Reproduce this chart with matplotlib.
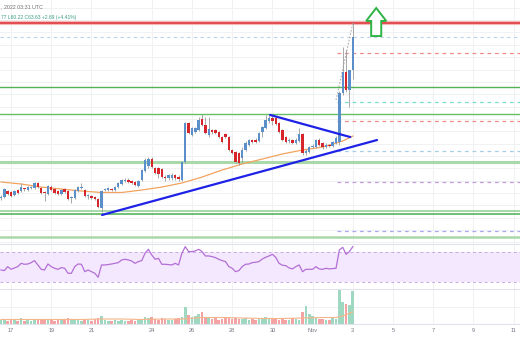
import numpy as np
import pandas as pd
import matplotlib
matplotlib.use("Agg")
import matplotlib.pyplot as plt
from matplotlib.patches import FancyArrow

# LTC/USD 4h candles, first bar opens 2022-10-16 12:00 UTC
first_bar = "2022-10-16 12:00"
origin = pd.Timestamp("2022-10-17")

opens = [50.59, 50.67, 51.16, 51.08, 50.84, 51.24, 51.16, 51.32, 51.24, 51.40,
         51.40, 51.81, 51.40, 51.08, 50.92, 51.48, 51.32, 51.16, 50.92, 51.32,
         51.16, 50.59, 50.59, 51.16, 51.40, 51.24, 50.75, 50.75, 50.67, 50.51,
         49.78, 51.24, 51.24, 51.32, 51.24, 51.48, 51.73, 51.97, 52.05, 51.97,
         51.89, 51.56, 52.05, 52.78, 53.18, 53.75, 53.02, 53.02, 52.94, 52.30,
         52.21, 52.21, 52.46, 52.30, 52.05, 53.51, 56.67, 55.70, 55.94, 56.10,
         56.99, 56.51, 55.70, 56.10, 56.10, 55.94, 55.53, 55.78, 55.53, 54.48,
         54.32, 54.24, 53.83, 54.48, 54.89, 55.29, 55.29, 55.21, 55.94, 56.26,
         56.83, 57.07, 57.07, 56.67, 56.10, 55.53, 55.21, 55.29, 55.05, 55.21,
         55.78, 54.24, 54.32, 54.72, 54.72, 55.29, 55.05, 54.72, 54.89, 54.81,
         55.05, 55.13, 59.10, 60.80, 59.34, 60.94]
highs = [50.84, 51.40, 51.24, 51.16, 51.24, 51.32, 51.81, 51.40, 51.56, 51.56,
         51.89, 51.89, 51.48, 51.16, 51.65, 51.65, 51.40, 51.24, 51.32, 51.40,
         51.24, 50.75, 51.32, 51.56, 51.81, 51.32, 50.92, 50.84, 50.75, 50.59,
         51.24, 51.40, 51.48, 51.40, 51.56, 51.89, 52.13, 52.21, 52.21, 52.05,
         51.97, 52.05, 52.94, 53.83, 53.91, 53.91, 53.10, 53.10, 53.02, 52.46,
         52.54, 52.62, 52.54, 52.46, 53.59, 56.75, 56.75, 56.34, 56.34, 57.15,
         57.40, 57.15, 57.15, 56.18, 56.18, 56.02, 55.62, 55.86, 55.62, 54.56,
         54.40, 54.32, 54.72, 55.21, 55.37, 55.37, 55.45, 55.94, 56.43, 57.32,
         57.32, 57.40, 57.23, 56.75, 56.18, 55.62, 55.45, 55.37, 55.45, 56.26,
         55.86, 54.56, 54.81, 54.97, 55.37, 55.45, 55.13, 55.05, 54.97, 55.21,
         55.62, 59.26, 62.82, 62.58, 60.96, 64.77]
lows = [50.43, 50.59, 50.84, 50.67, 50.75, 50.92, 51.08, 51.20, 51.16, 51.32,
        51.32, 51.40, 50.92, 50.35, 50.84, 51.16, 50.92, 50.84, 50.84, 51.00,
        50.43, 50.19, 50.51, 51.08, 51.32, 50.67, 50.51, 50.51, 50.43, 49.78,
        49.46, 51.16, 51.16, 51.16, 51.16, 51.40, 51.65, 51.89, 51.81, 51.73,
        51.56, 51.48, 51.97, 52.70, 53.02, 53.02, 52.54, 52.21, 52.21, 51.97,
        52.05, 52.05, 52.05, 51.97, 51.97, 53.43, 55.78, 55.62, 55.86, 56.02,
        56.43, 55.78, 55.53, 55.78, 55.78, 55.45, 55.05, 55.45, 54.40, 54.16,
        53.43, 53.27, 53.43, 54.40, 54.81, 55.05, 55.05, 55.13, 55.53, 56.18,
        56.67, 56.51, 56.51, 55.86, 55.21, 55.05, 55.05, 54.97, 54.97, 55.13,
        54.08, 54.08, 54.24, 54.64, 54.64, 54.81, 54.56, 54.64, 54.72, 54.72,
        54.97, 54.89, 58.94, 59.18, 57.96, 60.22]
closes = [50.67, 51.32, 50.92, 50.75, 51.16, 51.00, 51.48, 51.28, 51.48, 51.44,
          51.81, 51.48, 51.00, 51.00, 51.56, 51.24, 51.00, 50.92, 51.24, 51.08,
          50.51, 50.67, 51.24, 51.48, 51.48, 50.75, 50.84, 50.59, 50.51, 49.86,
          51.16, 51.32, 51.40, 51.24, 51.48, 51.81, 52.05, 52.01, 51.89, 51.81,
          51.65, 51.97, 52.86, 53.67, 53.75, 53.10, 52.62, 52.54, 52.30, 52.21,
          52.46, 52.46, 52.21, 52.13, 53.51, 56.67, 55.86, 56.26, 56.26, 56.91,
          56.51, 55.86, 56.18, 55.94, 55.86, 55.53, 55.13, 55.53, 54.48, 54.24,
          53.51, 53.43, 54.48, 55.05, 55.29, 55.13, 55.13, 55.86, 56.34, 56.91,
          57.07, 56.83, 56.59, 55.94, 55.29, 55.13, 55.29, 55.05, 55.29, 55.78,
          54.24, 54.40, 54.72, 54.81, 55.29, 54.89, 54.72, 54.89, 54.81, 55.13,
          55.45, 59.10, 60.80, 59.34, 60.94, 63.63]
volume = [200, 250, 150, 200, 200, 150, 300, 150, 200, 150,
          250, 250, 200, 250, 250, 200, 150, 200, 250, 200,
          300, 250, 250, 200, 150, 250, 200, 150, 250, 300,
          400, 200, 150, 150, 200, 150, 200, 150, 150, 200,
          150, 200, 250, 350, 300, 350, 250, 200, 300, 250,
          200, 200, 250, 300, 350, 850, 450, 350, 400, 500,
          600, 350, 300, 250, 300, 200, 250, 300, 350, 250,
          300, 250, 250, 300, 200, 250, 200, 250, 300, 350,
          250, 300, 250, 200, 250, 200, 200, 300, 250, 200,
          600, 900, 500, 400, 300, 250, 250, 200, 200, 350,
          250, 1700, 1100, 1000, 950, 1650]
rsi = [46.0, 45.2, 50.5, 46.9, 48.7, 50.5, 54.9, 53.6, 54.0, 55.8,
       58.5, 52.7, 46.9, 46.0, 54.0, 50.5, 48.3, 46.9, 49.2, 48.3,
       41.6, 41.6, 50.5, 54.0, 53.6, 43.8, 46.0, 43.8, 41.6, 36.3,
       52.7, 52.7, 53.2, 54.0, 54.9, 55.8, 59.4, 60.3, 59.4, 58.0,
       54.9, 57.2, 58.5, 68.3, 73.6, 66.0, 60.3, 61.6, 53.6, 53.6,
       53.2, 52.7, 54.9, 52.7, 68.3, 77.1, 70.5, 70.5, 71.4, 73.6,
       70.5, 64.7, 64.7, 63.8, 62.5, 60.3, 58.5, 57.2, 50.5, 48.3,
       43.8, 45.2, 50.5, 53.6, 54.0, 55.8, 56.3, 57.2, 60.7, 62.9,
       64.7, 66.9, 62.9, 54.9, 52.3, 51.8, 48.7, 47.4, 50.5, 52.7,
       43.8, 46.9, 46.9, 46.9, 50.5, 47.4, 46.9, 48.3, 47.4, 47.9,
       48.3, 72.7, 76.2, 66.9, 70.5, 77.1]

# moving average of price, sampled once a day (bar index -> value)
ma_bars = [0, 6, 12, 18, 24, 30, 36, 42, 48, 54, 60, 66, 72, 78, 84, 90, 96, 102, 105]
ma_vals = [51.89, 51.73, 51.48, 51.32, 51.16, 51.04, 51.04, 51.24, 51.48, 51.81,
           52.29, 52.86, 53.35, 53.75, 54.16, 54.48, 54.72, 55.21, 55.61]
# volume moving average
vma_bars = [0, 6, 12, 18, 24, 30, 36, 42, 48, 54, 60, 66, 72, 78, 84, 90, 96, 100, 102, 105]
vma_vals = [225, 225, 225, 225, 225, 250, 250, 225, 250, 250,
            325, 325, 300, 275, 275, 300, 325, 325, 400, 600]

# horizontal levels
solid_levels = [64.77, 59.58, 57.37, 53.51, 49.54, 49.30, 47.47]
dashed_levels = [62.34, 58.37, 56.83, 54.40, 51.91, 47.96]
last_price = 63.63
dashed_from = "2022-11-02 04:50"

# hand-drawn trend lines (date, price)
support_dates = ["2022-10-21 12:40", "2022-11-04 05:00"]
support_prices = [49.22, 55.29]
triangle_dates = ["2022-10-29 21:20", "2022-11-02 21:00"]
triangle_prices = [57.32, 55.53]
# dotted projection up to the resistance
path_dates = ["2022-11-02 04:00", "2022-11-03 00:10"]
path_prices = [58.53, 64.77]

tick_dates = ["2022-10-17", "2022-10-19", "2022-10-21", "2022-10-24", "2022-10-26",
              "2022-10-28", "2022-10-30", "2022-11-01", "2022-11-03", "2022-11-05",
              "2022-11-07", "2022-11-09", "2022-11-11"]
tick_labels = ["17", "19", "21", "24", "26", "28", "30", "Nov", "3", "5", "7", "9", "11"]


def days(ts):
    return (pd.to_datetime(ts) - origin) / pd.Timedelta(days=1)


bar_times = pd.date_range(first_bar, periods=len(closes), freq="4h")
x = np.asarray(days(bar_times))
o, h, l, c = map(np.asarray, (opens, highs, lows, closes))
up = c >= o

UP, DOWN = "#5b8fc9", "#d6262b"
GRID = "#f0f1f3"
XLIM = (-0.55, 25.32)
ticks = np.asarray(days(pd.to_datetime(tick_dates)))

plt.rcParams["font.family"] = ["Liberation Sans", "DejaVu Sans"]
fig = plt.figure(figsize=(5.2, 3.5), dpi=100)
ax = fig.add_axes([0, 0.3029, 1, 0.6971])
ax_rsi = fig.add_axes([0, 0.1743, 1, 0.1286], sharex=ax)
ax_vol = fig.add_axes([0, 0.0743, 1, 0.1], sharex=ax)

for a in (ax, ax_rsi, ax_vol):
    for s in a.spines.values():
        s.set_visible(False)
    a.set_xlim(*XLIM)
    a.set_yticks([])
    for t in ticks:
        a.axvline(t, color=GRID, lw=0.7, zorder=0)
ax_rsi.spines["top"].set_visible(True)
ax_vol.spines["top"].set_visible(True)
ax_vol.spines["bottom"].set_visible(True)
for s in (ax_rsi.spines["top"], ax_vol.spines["top"], ax_vol.spines["bottom"]):
    s.set_color("#e0e3eb")
    s.set_linewidth(0.8)

# ---- price pane ----
ax.set_ylim(46.87, 66.63)
for lvl in range(47, 67):
    ax.axhline(lvl, color=GRID, lw=0.7, zorder=0)

ax.axhline(solid_levels[0], color="#f6b9b9", lw=3.0, zorder=1)
ax.axhline(solid_levels[0], color="#e0393e", lw=1.2, zorder=2)
ax.axhline(solid_levels[1], color="#55b355", lw=1.0, zorder=2)
ax.axhline(solid_levels[2], color="#66bf66", lw=1.0, zorder=2)
ax.axhline(solid_levels[3], color="#a9d9a9", lw=2.2, zorder=2)
ax.axhline(solid_levels[4], color="#8fcf8f", lw=1.1, zorder=2)
ax.axhline(solid_levels[5], color="#4caf50", lw=1.1, zorder=2)
ax.axhline(solid_levels[6], color="#a9d9a9", lw=1.8, zorder=2)
ax.axhline(last_price, color="#bcd3ec", lw=0.8, ls=(0, (3, 3)), zorder=1)

dash_colors = ["#ee8a8a", "#7fdcc6", "#ee8a8a", "#a6cfe6", "#c39be0", "#a9a9f2"]
x0 = days(dashed_from)
for lvl, col in zip(dashed_levels, dash_colors):
    ax.hlines(lvl, x0, XLIM[1], color=col, lw=0.9, ls=(0, (3, 3)), zorder=1)

ax.plot(days(pd.to_datetime(support_dates)), support_prices, color="#1f22e6", lw=1.6, zorder=5,
        solid_capstyle="round")
ax.plot(days(pd.to_datetime(triangle_dates)), triangle_prices, color="#1f22e6", lw=1.6, zorder=5,
        solid_capstyle="round")
ax.plot(days(pd.to_datetime(path_dates)), path_prices, color="#b0b0b0", lw=0.8,
        ls=(0, (1.5, 1.5)), zorder=3)

ax.plot(x[ma_bars], ma_vals, color="#f2a35e", lw=0.9, zorder=3)

body_w = 0.12
ax.vlines(x, l, h, color="#9a9a9a", lw=0.6, zorder=3)
body = np.where(np.abs(c - o) < 0.05, 0.05, c - o)
ax.bar(x, body, bottom=o, width=body_w, color=np.where(up, UP, DOWN), lw=0, zorder=4)

# breakout target arrow
ax.add_patch(FancyArrow(days("2022-11-04 04:00"), 63.71, 0, 2.27, width=0.5, head_width=1.0,
                        head_length=1.05, length_includes_head=True, facecolor="white",
                        edgecolor="#2fb344", lw=1.4, zorder=6))

# ---- RSI pane ----
ax_rsi.set_ylim(20.67, 80.67)
ax_rsi.axhspan(30, 70, color="#f3e8fd", lw=0, zorder=0)
for lvl in (30, 70):
    ax_rsi.axhline(lvl, color="#c9a9e3", lw=0.7, ls=(0, (3, 3)), zorder=1)
ax_rsi.plot(x, rsi, color="#b46fd6", lw=0.9, zorder=3)

# ---- volume pane ----
ax_vol.set_ylim(0, 1750)
ax_vol.axhline(850, color=GRID, lw=0.7, zorder=0)
ax_vol.bar(x, volume, width=0.13, color=np.where(up, "#9fd8c1", "#f4a3a5"), lw=0, zorder=2)
ax_vol.plot(x[vma_bars], vma_vals, color="#f6b48a", lw=0.8, zorder=3)

ax_vol.set_xticks(ticks)
ax_vol.set_xticklabels(tick_labels)
ax_vol.tick_params(axis="x", length=0, pad=3, labelsize=4, labelcolor="#6f737e")
plt.setp(ax.get_xticklabels(), visible=False)
plt.setp(ax_rsi.get_xticklabels(), visible=False)
ax.tick_params(axis="x", length=0)
ax_rsi.tick_params(axis="x", length=0)

# header legend (left part scrolled out of view)
fig.text(1 / 520, 1 - 7 / 350, ", 2022 03:31 UTC", ha="left", va="center",
         fontsize=3.8, color="#707070")
fig.text(1 / 520, 1 - 17 / 350, "77 L60.22 C63.63 +2.69 (+4.41%)", ha="left",
         va="center", fontsize=3.6, color="#3c9c80")

fig.savefig("out.png", dpi=100, facecolor="white")
